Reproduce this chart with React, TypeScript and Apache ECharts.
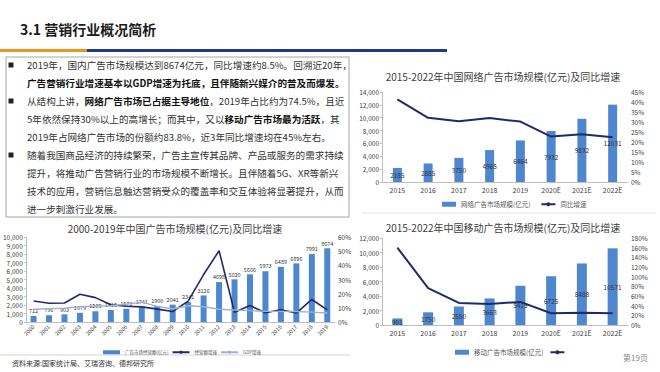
import React, { useEffect, useRef } from "react";
import * as echarts from "echarts";

const netYears = ["2015", "2016", "2017", "2018", "2019", "2020E", "2021E", "2022E"];
const netSize = [2185, 2885, 3750, 4965, 6464, 7932, 9832, 12031];
const netGrowth = [41.3, 32.1, 30.4, 32.0, 30.2, 22.7, 23.9, 22.4];

const adYears = ["2000", "2001", "2002", "2003", "2004", "2005", "2006", "2007", "2008", "2009", "2010", "2011", "2012", "2013", "2014", "2015", "2016", "2017", "2018", "2019"];
const adSize = [712, 796, 903, 1079, 1265, 1416, 1573, 1741, 1900, 2041, 2341, 3126, 4698, 5020, 5606, 5973, 6489, 6896, 7991, 8674];
const adGrowth = [14.8, 13.2, 13.4, 19.6, 17.2, 12.2, 11.1, 10.7, 9.1, 7.4, 14.7, 33.5, 50.3, 6.9, 11.7, 6.5, 8.6, 6.3, 15.9, 8.5];
const gdpGrowth = [9.0, 9.4, 9.8, 10.8, 11.3, 11.5, 12.5, 14.0, 11.0, 9.2, 11.5, 10.8, 9.0, 8.5, 8.0, 7.6, 7.5, 7.4, 7.0, 6.4];

const mobYears = ["2015", "2016", "2017", "2018", "2019", "2020E", "2021E", "2022E"];
const mobSize = [901, 1750, 2550, 3663, 5415, 6725, 8488, 10571];
const mobGrowth = [160.0, 76.4, 45.7, 43.7, 47.8, 24.2, 25.6, 24.5];

const textLines: string[][][] = [
  [["n", "2019年，国内广告市场规模达到8674亿元，同比增速约8.5%。回溯近20年，"]],
  [["b", "广告营销行业增速基本以GDP增速为托底，且伴随新兴媒介的普及而爆发。"]],
  [["n", "从结构上讲，"], ["b", "网络广告市场已占据主导地位"], ["n", "，2019年占比约为74.5%，且近"]],
  [["n", "5年依然保持30%以上的高增长；而其中，又以"], ["b", "移动广告市场最为活跃"], ["n", "，其"]],
  [["n", "2019年占网络广告市场的份额约83.8%，近3年同比增速均在45%左右。"]],
  [["n", "随着我国商品经济的持续繁荣，广告主宣传其品牌、产品或服务的需求持续"]],
  [["n", "提升，将推动广告营销行业的市场规模不断增长。且伴随着5G、XR等新兴"]],
  [["n", "技术的应用，营销信息触达营销受众的覆盖率和交互体验将显著提升，从而"]],
  [["n", "进一步刺激行业发展。"]],
];
const bulletLines = [0, 2, 5];

const FONT = "'Noto Sans CJK SC', 'Noto Sans', sans-serif";
const BAR = "#4f87cf";
const NAVY = "#1f2a6c";
const GDP = "#9cb3d0";
const AX = "#bfbfbf";
const LBL = "#404040";

export default function App() {
  const ref = useRef<HTMLDivElement>(null);
  useEffect(() => {
    document.body.style.margin = "0";
    const chart = echarts.init(ref.current!, null, { renderer: "svg" });

    const graphics: any[] = [];
    graphics.push({
      type: "text", left: 20, top: 22,
      style: { text: "3.1 营销行业概况简析", font: `bold 14px ${FONT}`, fill: "#1a1a1a" },
    });
    graphics.push({ type: "rect", shape: { x: 0, y: 49, width: 87, height: 3 }, style: { fill: "#e8961e" } });
    graphics.push({ type: "rect", shape: { x: 87, y: 49, width: 360, height: 3 }, style: { fill: "#1e3a8a" } });
    graphics.push({
      type: "rect", shape: { x: 6, y: 57, width: 343, height: 160 },
      style: { fill: "none", stroke: "#a6a6a6", lineWidth: 1 },
    });
    textLines.forEach((segs, i) => {
      const y = 65 + i * 18;
      graphics.push({
        type: "text", x: 27, y,
        style: {
          text: segs.map(([k, t]) => `{${k}|${t}}`).join(""),
          verticalAlign: "middle",
          rich: {
            n: { fontSize: 9.6, fontFamily: FONT, fill: "#333", color: "#333" },
            b: { fontSize: 9.6, fontFamily: FONT, fontWeight: "bold", fill: "#111", color: "#111" },
          },
        },
      });
      if (bulletLines.includes(i)) {
        graphics.push({ type: "rect", shape: { x: 8.5, y: y - 2.5, width: 5, height: 5 }, style: { fill: "#222" } });
      }
    });
    const titles = [
      { x: 503, y: 76, t: "2015-2022年中国网络广告市场规模(亿元)及同比增速" },
      { x: 175, y: 228, t: "2000-2019年中国广告市场规模(亿元)及同比增速" },
      { x: 503, y: 227, t: "2015-2022年中国移动广告市场规模(亿元)及同比增速" },
    ];
    titles.forEach((t) =>
      graphics.push({
        type: "text", x: t.x, y: t.y,
        style: { text: t.t, fontSize: 10, fontFamily: FONT, fill: "#404040", align: "center", verticalAlign: "middle" },
      })
    );
    graphics.push({ type: "line", shape: { x1: 362, y1: 213, x2: 656, y2: 213 }, style: { stroke: "#e3e3e3", lineWidth: 1 } });
    graphics.push({ type: "line", shape: { x1: 0, y1: 355, x2: 350, y2: 355 }, style: { stroke: "#c8c8c8", lineWidth: 0.8 } });
    graphics.push({
      type: "text", x: 12, y: 363,
      style: { text: "资料来源:国家统计局、艾瑞咨询、德邦研究所", fontSize: 7, fontFamily: FONT, fill: "#333", verticalAlign: "middle" },
    });
    graphics.push({
      type: "text", x: 623, y: 357,
      style: { text: "第19页", fontSize: 8, fontFamily: FONT, fill: "#8c8c8c", verticalAlign: "middle" },
    });

    const yBase = (gi: number, max: number, interval: number, pos: string, pct: boolean, showLine: boolean) => ({
      type: "value", gridIndex: gi, min: 0, max, interval, position: pos,
      axisLine: { show: showLine, lineStyle: { color: AX } },
      axisTick: { show: showLine, length: 2, lineStyle: { color: AX } },
      splitLine: { show: false },
      axisLabel: { fontSize: 6.5, color: LBL, fontFamily: FONT, margin: 3, formatter: pct ? "{value}%" : "{value}" },
    });
    const xBase = (gi: number, data: string[], rotate: number, fs: number) => ({
      type: "category", gridIndex: gi, data,
      axisLine: { show: true, lineStyle: { color: AX } },
      axisTick: { show: false },
      axisLabel: { fontSize: fs, color: LBL, fontFamily: FONT, rotate, margin: 4, interval: 0 },
    });
    const pctFmt = (p: any) => Number(p.value).toFixed(1) + "%";

    const option: any = {
      animation: false,
      textStyle: { fontFamily: FONT },
      graphic: graphics,
      grid: [
        { left: 382, top: 92, width: 246, height: 90 },
        { left: 22, top: 237, width: 313, height: 85 },
        { left: 382, top: 238, width: 246, height: 87 },
      ],
      xAxis: [xBase(0, netYears, 0, 7), xBase(1, adYears, 45, 5.5), xBase(2, mobYears, 0, 7)],
      yAxis: [
        yBase(0, 14000, 2000, "left", false, true),
        yBase(0, 45, 5, "right", true, false),
        yBase(1, 10000, 1000, "left", false, true),
        yBase(1, 60, 10, "right", true, false),
        yBase(2, 12000, 2000, "left", false, true),
        yBase(2, 180, 20, "right", true, false),
      ],
      legend: [
        {
          left: 437, top: 196, itemWidth: 14, itemHeight: 5, itemGap: 10,
          textStyle: { fontSize: 6.5, color: "#555", fontFamily: FONT },
          data: [{ name: "网络广告市场规模(亿元)", icon: "rect" }, "同比增速"],
        },
        {
          left: 98, top: 345, itemWidth: 17, itemHeight: 4, itemGap: 3,
          textStyle: { fontSize: 4.5, color: "#555", fontFamily: FONT },
          data: [{ name: "广告市场经营额(亿元)", icon: "rect" }, "经营额增速", "GDP增速"],
        },
        {
          left: 450, top: 344, itemWidth: 14, itemHeight: 5, itemGap: 6,
          textStyle: { fontSize: 6.5, color: "#555", fontFamily: FONT },
          data: [{ name: "移动广告市场规模(亿元)", icon: "rect" }, "移动同比增速"],
          formatter: (n: string) => (n === "移动同比增速" ? "" : n),
        },
      ],
      series: [
        {
          type: "bar", name: "网络广告市场规模(亿元)", xAxisIndex: 0, yAxisIndex: 0, data: netSize,
          barWidth: 9, itemStyle: { color: BAR },
          label: { show: true, position: "inside", fontSize: 6.5, color: "#333" },
        },
        {
          type: "line", name: "同比增速", xAxisIndex: 0, yAxisIndex: 1, data: netGrowth,
          symbol: "none", lineStyle: { color: NAVY, width: 2 }, itemStyle: { color: NAVY },
          label: { show: true, position: "top", fontSize: 6.5, color: LBL, formatter: pctFmt, distance: 4 },
        },
        {
          type: "bar", name: "广告市场经营额(亿元)", xAxisIndex: 1, yAxisIndex: 2, data: adSize,
          barWidth: 6, itemStyle: { color: BAR },
          label: { show: true, position: "top", fontSize: 5.5, color: "#333", distance: 2 },
        },
        {
          type: "line", name: "经营额增速", xAxisIndex: 1, yAxisIndex: 3, data: adGrowth,
          symbol: "none", lineStyle: { color: NAVY, width: 1.6 }, itemStyle: { color: NAVY }, z: 3,
        },
        {
          type: "line", name: "GDP增速", xAxisIndex: 1, yAxisIndex: 3, data: gdpGrowth,
          symbol: "none", lineStyle: { color: GDP, width: 1.4 }, itemStyle: { color: GDP }, z: 3,
        },
        {
          type: "bar", name: "移动广告市场规模(亿元)", xAxisIndex: 2, yAxisIndex: 4, data: mobSize,
          barWidth: 10, itemStyle: { color: BAR },
          label: { show: true, position: "inside", fontSize: 6.5, color: "#333" },
        },
        {
          type: "line", name: "移动同比增速", xAxisIndex: 2, yAxisIndex: 5, data: mobGrowth,
          symbol: "none", lineStyle: { color: NAVY, width: 2 }, itemStyle: { color: NAVY },
          label: { show: true, position: "top", fontSize: 6.5, color: LBL, formatter: pctFmt, distance: 4 },
        },
      ],
    };
    chart.setOption(option);
    return () => chart.dispose();
  }, []);
  return <div ref={ref} style={{ width: 660, height: 372, background: "#fff" }} />;
}
